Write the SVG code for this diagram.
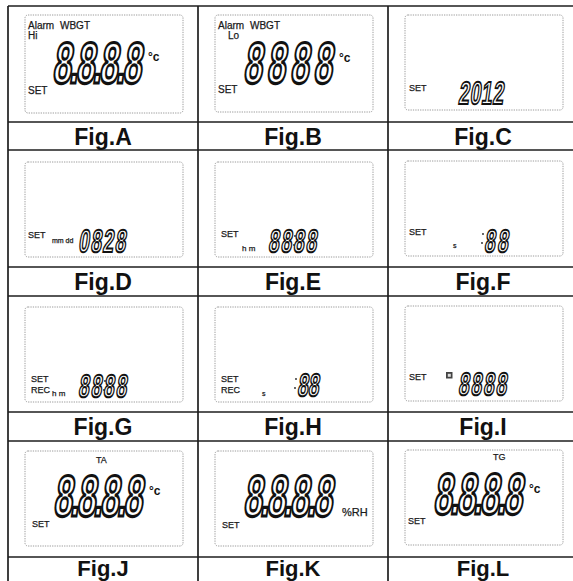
<svg xmlns="http://www.w3.org/2000/svg" width="573" height="581" viewBox="0 0 573 581">
<style>
.grid line{stroke:#1e1e1e;stroke-width:1.7}
.lcd{fill:none;stroke:#9c9c9c;stroke-width:1;stroke-dasharray:1.3 1.1}
.t{font-family:"Liberation Sans",Arial,sans-serif;fill:#1a1a1a;stroke:#1a1a1a;stroke-width:0.25}
.s10{font-size:10px}
.s9{font-size:9px}
.s8{font-size:8px}
.s7{font-size:7px}
.unit{font-family:"Liberation Sans",Arial,sans-serif;font-size:12px;font-weight:bold;fill:#111}
.big{font-family:"Liberation Sans",Arial,sans-serif;font-size:58px;font-weight:bold;fill:#fff;stroke:#111;stroke-width:3.2}
.sm{font-family:"Liberation Sans",Arial,sans-serif;font-size:32px;font-weight:bold;fill:#fff;stroke:#111;stroke-width:2}
.fig{font-family:"Liberation Sans",Arial,sans-serif;font-size:23px;font-weight:bold;fill:#111;text-anchor:middle}
.figb{font-size:22px}
.dot{fill:#222}
</style>
<rect width="573" height="581" fill="#fff"/>
<g id="grid" class="grid">
<line x1="8" y1="6" x2="8" y2="581"/>
<line x1="198" y1="6" x2="198" y2="581"/>
<line x1="388" y1="6" x2="388" y2="581"/>
<line x1="8" y1="6" x2="573" y2="6"/>
<line x1="8" y1="122" x2="573" y2="122"/>
<line x1="8" y1="150" x2="573" y2="150"/>
<line x1="8" y1="267" x2="573" y2="267"/>
<line x1="8" y1="296" x2="573" y2="296"/>
<line x1="8" y1="412" x2="573" y2="412"/>
<line x1="8" y1="441" x2="573" y2="441"/>
<line x1="8" y1="557" x2="573" y2="557"/>
</g>

<g id="figA">
<rect class="lcd" x="25" y="15" width="158" height="98" rx="3"/>
<text class="t s10" x="28" y="29">Alarm</text>
<text class="t s10" x="60" y="29">WBGT</text>
<text class="t s10" x="28" y="39">Hi</text>
<text class="big" letter-spacing="-4" transform="translate(52,83) skewX(-8) scale(0.58,1)">8.8.8.8</text>
<text class="unit" x="148" y="61">°c</text>
<text class="t s10" x="28" y="94">SET</text>
<text class="fig" x="103" y="145">Fig.A</text>
</g>

<g id="figB">
<rect class="lcd" x="215" y="15" width="158" height="97" rx="3"/>
<text class="t s10" x="218" y="29">Alarm</text>
<text class="t s10" x="250" y="29">WBGT</text>
<text class="t s10" x="228" y="39">Lo</text>
<text class="big" letter-spacing="8" transform="translate(243,83) skewX(-8) scale(0.58,1)">8888</text>
<text class="unit" x="339" y="62">°c</text>
<text class="t s10" x="218" y="93">SET</text>
<text class="fig" x="293" y="145">Fig.B</text>
</g>

<g id="figC">
<rect class="lcd" x="405" y="15" width="158" height="95" rx="3"/>
<text class="t s9" x="409" y="91">SET</text>
<text class="sm" letter-spacing="1.2" transform="translate(458,104) skewX(-8) scale(0.6,1)">2012</text>
<text class="fig" x="483" y="145">Fig.C</text>
</g>

<g id="figD">
<rect class="lcd" x="25" y="162" width="158" height="95" rx="3"/>
<text class="t s9" x="28" y="238">SET</text>
<text class="t s7" x="52" y="243">mm dd</text>
<text class="sm" letter-spacing="2.5" transform="translate(78,252) skewX(-8) scale(0.6,1)">0828</text>
<text class="fig" x="103" y="290">Fig.D</text>
</g>

<g id="figE">
<rect class="lcd" x="215" y="162" width="158" height="95" rx="3"/>
<text class="t s9" x="221" y="237">SET</text>
<text class="t s8" x="242" y="251">h m</text>
<text class="sm" letter-spacing="3" transform="translate(268,252) skewX(-8) scale(0.6,1)">8888</text>
<circle class="dot" cx="295" cy="236" r="0.9"/>
<circle class="dot" cx="294" cy="245" r="0.9"/>
<text class="fig" x="293" y="290">Fig.E</text>
</g>

<g id="figF">
<rect class="lcd" x="405" y="161" width="158" height="95" rx="3"/>
<text class="t s9" x="409" y="235">SET</text>
<text class="t s7" x="453" y="248">s</text>
<circle class="dot" cx="483" cy="234" r="0.9"/>
<circle class="dot" cx="482" cy="243" r="0.9"/>
<text class="sm" letter-spacing="4" transform="translate(484,252) skewX(-8) scale(0.6,1)">88</text>
<text class="fig" x="483" y="290">Fig.F</text>
</g>

<g id="figG">
<rect class="lcd" x="25" y="307" width="158" height="95" rx="3"/>
<text class="t s9" x="31" y="382">SET</text>
<text class="t s9" x="31" y="393">REC</text>
<text class="t s8" x="52" y="396">h m</text>
<text class="sm" letter-spacing="3" transform="translate(78,397) skewX(-8) scale(0.6,1)">8888</text>
<circle class="dot" cx="105" cy="381" r="0.9"/>
<circle class="dot" cx="104" cy="390" r="0.9"/>
<text class="fig" x="103" y="435">Fig.G</text>
</g>

<g id="figH">
<rect class="lcd" x="215" y="307" width="158" height="95" rx="3"/>
<text class="t s9" x="221" y="382">SET</text>
<text class="t s9" x="221" y="393">REC</text>
<text class="t s7" x="262" y="396">s</text>
<circle class="dot" cx="296" cy="379" r="0.9"/>
<circle class="dot" cx="295" cy="388" r="0.9"/>
<text class="sm" letter-spacing="0" transform="translate(297,396) skewX(-8) scale(0.6,1)">88</text>
<text class="fig" x="293" y="435">Fig.H</text>
</g>

<g id="figI">
<rect class="lcd" x="405" y="306" width="158" height="95" rx="3"/>
<text class="t s9" x="409" y="380">SET</text>
<rect x="446" y="372" width="6.5" height="6.5" fill="#444"/>
<rect x="447.8" y="373.8" width="3" height="3" fill="#ddd"/>
<text class="sm" letter-spacing="3" transform="translate(458,395) skewX(-8) scale(0.6,1)">8888</text>
<text class="fig" x="483" y="435">Fig.I</text>
</g>

<g id="figJ">
<rect class="lcd" x="25" y="451" width="158" height="95" rx="3"/>
<text class="t s9" x="96" y="463">TA</text>
<text class="big" letter-spacing="-4" transform="translate(53,516) skewX(-8) scale(0.58,1)">8.8.8.8</text>
<text class="unit" x="149" y="495">°c</text>
<text class="t s9" x="32" y="527">SET</text>
<text class="fig figb" x="103" y="576">Fig.J</text>
</g>

<g id="figK">
<rect class="lcd" x="215" y="451" width="158" height="95" rx="3"/>
<text class="big" letter-spacing="-4" transform="translate(243,516) skewX(-8) scale(0.58,1)">8.8.8.8</text>
<text class="t" font-size="11" x="342" y="516">%RH</text>
<text class="t s9" x="222" y="528">SET</text>
<text class="fig figb" x="293" y="576">Fig.K</text>
</g>

<g id="figL">
<rect class="lcd" x="405" y="450" width="158" height="95" rx="3"/>
<text class="t s9" x="493" y="460">TG</text>
<text class="big" letter-spacing="-4" transform="translate(433,514) skewX(-8) scale(0.58,1)">8.8.8.8</text>
<text class="unit" x="529" y="493">°c</text>
<text class="t s9" x="408" y="524">SET</text>
<text class="fig figb" x="483" y="576">Fig.L</text>
</g>
</svg>
